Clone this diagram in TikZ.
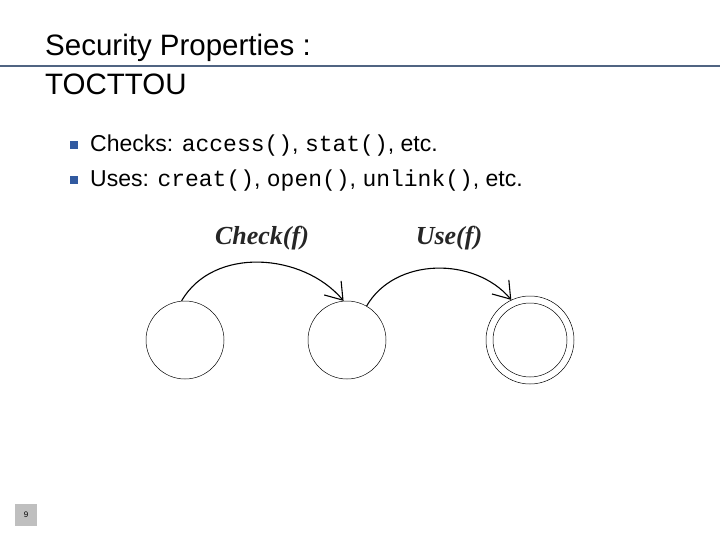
\documentclass[tikz,border=0pt]{standalone}
\usepackage{fontspec}
\setmainfont{Liberation Sans}
\setmonofont{Liberation Mono}
\newfontfamily\lblfont{Liberation Serif}
\usetikzlibrary{arrows.meta}
\begin{document}
\begin{tikzpicture}[x=1pt,y=-1pt,
  st/.style={circle,draw,line width=0.5pt,minimum size=78pt,inner sep=0pt},
  arc/.style={line width=1.1pt,-{Straight Barb[length=16pt,width=22pt,line width=1.1pt]}},
  lbl/.style={font=\lblfont\itshape\bfseries\fontsize{26}{30}\selectfont,text=black!85},
  bul/.style={fill={rgb,255:red,50;green,90;blue,160},minimum size=8pt,inner sep=0pt},
  btxt/.style={anchor=base west,font=\fontsize{23}{27}\selectfont,inner sep=0pt}]
\useasboundingbox (0,0) rectangle (720,540);
\fill[white] (0,0) rectangle (720,540);
\node[anchor=base west,inner sep=0pt,font=\fontsize{29.5}{34}\selectfont] (t1) at (45,56) {Security Properties :};
\node[anchor=base west,inner sep=0pt,font=\fontsize{29.5}{34}\selectfont] (t2) at (45,95) {TOCTTOU};
\draw[color={rgb,255:red,80;green,100;blue,130},line width=1.5pt] (0,66) coordinate (l1) -- (720,66) coordinate (l2);
\node[bul] (b1) at (74,145) {};
\node[bul] (b2) at (74,180) {};
\node[btxt] (x1) at (90,152) {Checks: \texttt{access()}, \texttt{stat()}, etc.};
\node[btxt] (x2) at (90,187) {Uses: \texttt{creat()}, \texttt{open()}, \texttt{unlink()}, etc.};
\node[st] (s1) at (185,340) {};
\node[st] (s2) at (347,340) {};
\node[st,minimum size=74pt] (s3) at (530,340) {};
\node[circle,draw,line width=0.5pt,minimum size=88pt,inner sep=0pt] (s3o) at (530,340) {};
\draw[arc] (s1.95) to[out=60,in=130] (s2.95);
\draw[arc] (s2.60) to[out=60,in=130] (s3o.115);
\node[lbl] (c) at (262,238) {Check(\textit{f})};
\node[lbl] (u) at (449,238) {Use(\textit{f})};
\node[fill=black!25,minimum size=22pt,inner sep=0pt,font=\fontsize{8}{9}\selectfont] (pg) at (26,515) {9};
\end{tikzpicture}
\end{document}
